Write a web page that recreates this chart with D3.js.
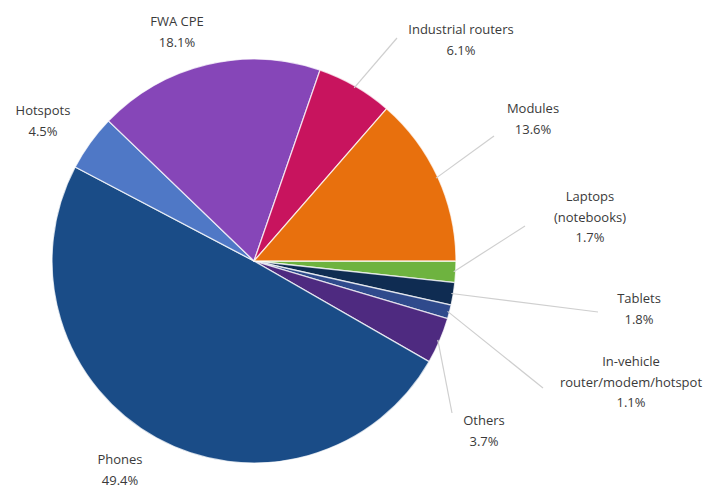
<!DOCTYPE html>
<html><head><meta charset="utf-8">
<script src="https://cdn.jsdelivr.net/npm/d3@7"></script>
<style>body{margin:0;background:#fff;} svg{display:block;}</style>
</head><body>
<svg id="chart" width="710" height="489"></svg>
<script>
// Data (clockwise from 3 o'clock)
const categories = ["Laptops (notebooks)", "Tablets", "In-vehicle router/modem/hotspot", "Others", "Phones", "Hotspots", "FWA CPE", "Industrial routers", "Modules"];
const values = [1.7, 1.8, 1.1, 3.7, 49.4, 4.5, 18.1, 6.1, 13.6];
const labelLines = [["Laptops", "(notebooks)", "1.7%"], ["Tablets", "1.8%"], ["In-vehicle", "router/modem/hotspot", "1.1%"], ["Others", "3.7%"], ["Phones", "49.4%"], ["Hotspots", "4.5%"], ["FWA CPE", "18.1%"], ["Industrial routers", "6.1%"], ["Modules", "13.6%"]];
const colors = ["#6eb33f", "#0f2c52", "#2f4a8c", "#4e2a80", "#1a4c87", "#4f78c6", "#8646b8", "#c8145e", "#e8700d"];

// Layout (label centre of first line, and leader end points; null = no leader)
const labelXY = [[590, 198], [639, 300], [631, 363], [484, 422], [120, 461], [43, 112], [177, 23], [461, 31], [533, 110]];
const leaderEnd = [[525, 226], [598, 312], [543, 388], [452, 413], null, null, null, [397, 38], [494, 136]];

const svg = d3.select("#chart");
const cx = 254, cy = 261, R = 202;
const g = svg.append("g").attr("transform", `translate(${cx},${cy})`);

const pie = d3.pie().sort(null).value(d => d)
  .startAngle(Math.PI / 2).endAngle(Math.PI / 2 + 2 * Math.PI);
const arcs = pie(values);
const arc = d3.arc().innerRadius(0).outerRadius(R);

g.selectAll("path.slice").data(arcs).join("path")
  .attr("class", "slice")
  .attr("d", arc)
  .attr("fill", (d, i) => colors[i])
  .attr("stroke", "#ffffff")
  .attr("stroke-opacity", 0.75)
  .attr("stroke-width", 1.3);

// leader lines
const edgeArc = d3.arc().innerRadius(R - 2).outerRadius(R - 2);
arcs.forEach((d, i) => {
  if (!leaderEnd[i]) return;
  const c = edgeArc.centroid(d);
  svg.append("line")
    .attr("x1", cx + c[0]).attr("y1", cy + c[1])
    .attr("x2", leaderEnd[i][0]).attr("y2", leaderEnd[i][1])
    .attr("stroke", "#cfcfcf").attr("stroke-width", 1.2);
});

// labels
labelLines.forEach((lines, i) => {
  const t = svg.append("text")
    .attr("x", labelXY[i][0]).attr("y", labelXY[i][1])
    .attr("text-anchor", "middle")
    .attr("font-family", "'Open Sans', Lato, sans-serif")
    .attr("font-size", 13)
    .attr("fill", "#3a3a3a");
  lines.forEach((s, k) => {
    t.append("tspan").attr("x", labelXY[i][0]).attr("y", labelXY[i][1] + k * 20.5)
      .attr("dominant-baseline", "middle").text(s);
  });
});
</script>
</body></html>
